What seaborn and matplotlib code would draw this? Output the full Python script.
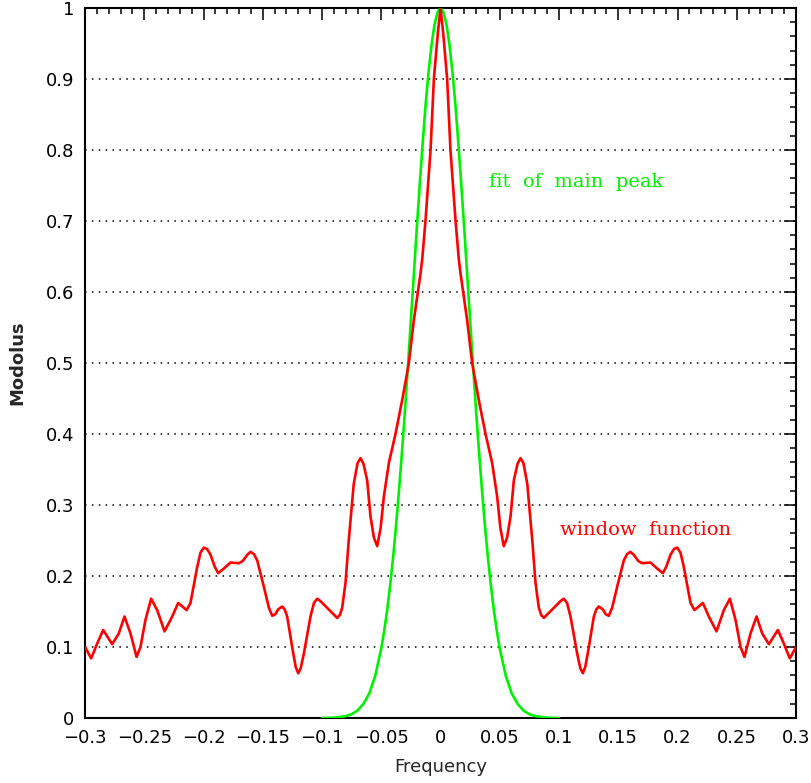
import numpy as np
import pandas as pd
import matplotlib
matplotlib.use("Agg")
import matplotlib.pyplot as plt
from matplotlib.ticker import MultipleLocator, FuncFormatter
import seaborn as sns

# ---- data (positive-frequency half; curves are symmetric) ----
red_freq_pos = [0.0, 0.0023, 0.0056, 0.0084, 0.0127, 0.0155, 0.0169, 0.0191, 0.0225,
                0.0267, 0.0323, 0.038, 0.0436, 0.0478, 0.0505, 0.0534, 0.0562, 0.0591,
                0.0619, 0.065, 0.0675, 0.070, 0.0732, 0.0774, 0.0802, 0.083, 0.085,
                0.0872, 0.0956, 0.1015, 0.1041, 0.1068, 0.1097, 0.1153, 0.118, 0.1201,
                0.1222, 0.1252, 0.1294, 0.1315, 0.1336, 0.137, 0.1395, 0.142, 0.1448,
                0.1491, 0.1547, 0.1575, 0.1603, 0.163, 0.167, 0.1702, 0.1772, 0.1825,
                0.1876, 0.1905, 0.1941, 0.197, 0.1997, 0.2025, 0.2053, 0.211, 0.2143,
                0.2214, 0.2264, 0.2329, 0.2391, 0.2442, 0.249, 0.2532, 0.2565, 0.2616,
                0.2667, 0.2715, 0.2771, 0.2847, 0.2897, 0.2948, 0.3]
red_mod_pos = [1.0, 0.964, 0.90, 0.80, 0.70, 0.645, 0.626, 0.60, 0.56,
               0.50, 0.448, 0.40, 0.359, 0.312, 0.268, 0.242, 0.254, 0.284,
               0.335, 0.358, 0.366, 0.359, 0.330, 0.251, 0.190, 0.155, 0.145,
               0.141, 0.155, 0.165, 0.168, 0.162, 0.143, 0.091, 0.070, 0.063,
               0.072, 0.100, 0.143, 0.153, 0.157, 0.153, 0.146, 0.144, 0.155,
               0.185, 0.222, 0.231, 0.234, 0.230, 0.221, 0.218, 0.219, 0.211,
               0.204, 0.213, 0.230, 0.238, 0.240, 0.233, 0.213, 0.162, 0.152,
               0.162, 0.143, 0.122, 0.152, 0.168, 0.138, 0.100, 0.086, 0.119,
               0.143, 0.119, 0.104, 0.124, 0.105, 0.084, 0.100]

green_freq_pos = [0.0, 0.0025, 0.005, 0.0075, 0.01, 0.0125, 0.015, 0.0175, 0.02, 0.0225,
                  0.025, 0.0275, 0.03, 0.0325, 0.035, 0.0375, 0.04, 0.0425, 0.045,
                  0.0475, 0.05, 0.055, 0.06, 0.065, 0.07, 0.075, 0.08, 0.09, 0.1]
green_mod_pos = [1.0, 0.994, 0.977, 0.949, 0.911, 0.865, 0.811, 0.752, 0.690, 0.625,
                 0.560, 0.495, 0.433, 0.375, 0.321, 0.271, 0.226, 0.187, 0.152,
                 0.123, 0.098, 0.060, 0.035, 0.020, 0.0105, 0.0054, 0.0026, 0.0005, 0.0]

x_ticks = [-0.3, -0.25, -0.2, -0.15, -0.1, -0.05, 0, 0.05, 0.1, 0.15, 0.2, 0.25, 0.3]
y_ticks = [0, 0.1, 0.2, 0.3, 0.4, 0.5, 0.6, 0.7, 0.8, 0.9, 1]

# full symmetric curves
red_freq = [-f for f in red_freq_pos[:0:-1]] + red_freq_pos
red_mod = red_mod_pos[:0:-1] + red_mod_pos
green_freq = [-f for f in green_freq_pos[:0:-1]] + green_freq_pos
green_mod = green_mod_pos[:0:-1] + green_mod_pos

df_red = pd.DataFrame({"Frequency": red_freq, "Modolus": red_mod})
df_green = pd.DataFrame({"Frequency": green_freq, "Modolus": green_mod})

sns.set_style("white")
plt.rcParams["font.family"] = ["DejaVu Sans"]

fig = plt.figure(figsize=(8.12, 7.83), dpi=100)
ax = fig.add_axes([0.1047, 0.083, 0.8756, 0.9068])

RED = "#ff0000"
GREEN = "#00f000"

sns.lineplot(data=df_green, x="Frequency", y="Modolus", ax=ax, color=GREEN,
             linewidth=1.9, sort=False, zorder=3)
sns.lineplot(data=df_red, x="Frequency", y="Modolus", ax=ax, color=RED,
             linewidth=1.9, sort=False, zorder=4)

ax.set_xlim(-0.3, 0.3)
ax.set_ylim(0, 1)
ax.set_xticks(x_ticks)
ax.set_yticks(y_ticks)
ax.xaxis.set_minor_locator(MultipleLocator(0.01))
ax.yaxis.set_minor_locator(MultipleLocator(0.02))

fmt = FuncFormatter(lambda v, p: ("%g" % round(v, 4)).replace("-", "\u2212"))
ax.xaxis.set_major_formatter(fmt)
ax.yaxis.set_major_formatter(fmt)

ax.tick_params(which="both", direction="in", top=True, right=True,
               color="black", width=1.1, labelsize=13, labelcolor="black")
ax.tick_params(which="major", length=8.6, pad=8)
ax.tick_params(which="minor", length=4.3)

for s in ax.spines.values():
    s.set_visible(True)
    s.set_color("black")
    s.set_linewidth(1.5)

ax.yaxis.grid(True, which="major", linestyle=(0, (1, 3.5)), color="black", linewidth=1.1)
ax.xaxis.grid(False)
ax.set_axisbelow(True)

ax.set_xlabel("Frequency", fontsize=13)
ax.set_ylabel("Modolus", fontsize=13, fontweight="bold")
ax.xaxis.set_label_coords(0.5, -0.056)
ax.yaxis.set_label_coords(-0.083, 0.5)

ax.text(0.0405, 0.755, "fit  of  main  peak", color=GREEN, fontsize=14,
        family="DejaVu Serif", ha="left", va="center")
ax.text(0.101, 0.265, "window  function", color=RED, fontsize=14,
        family="DejaVu Serif", ha="left", va="center")

fig.savefig("out.png", dpi=100)
